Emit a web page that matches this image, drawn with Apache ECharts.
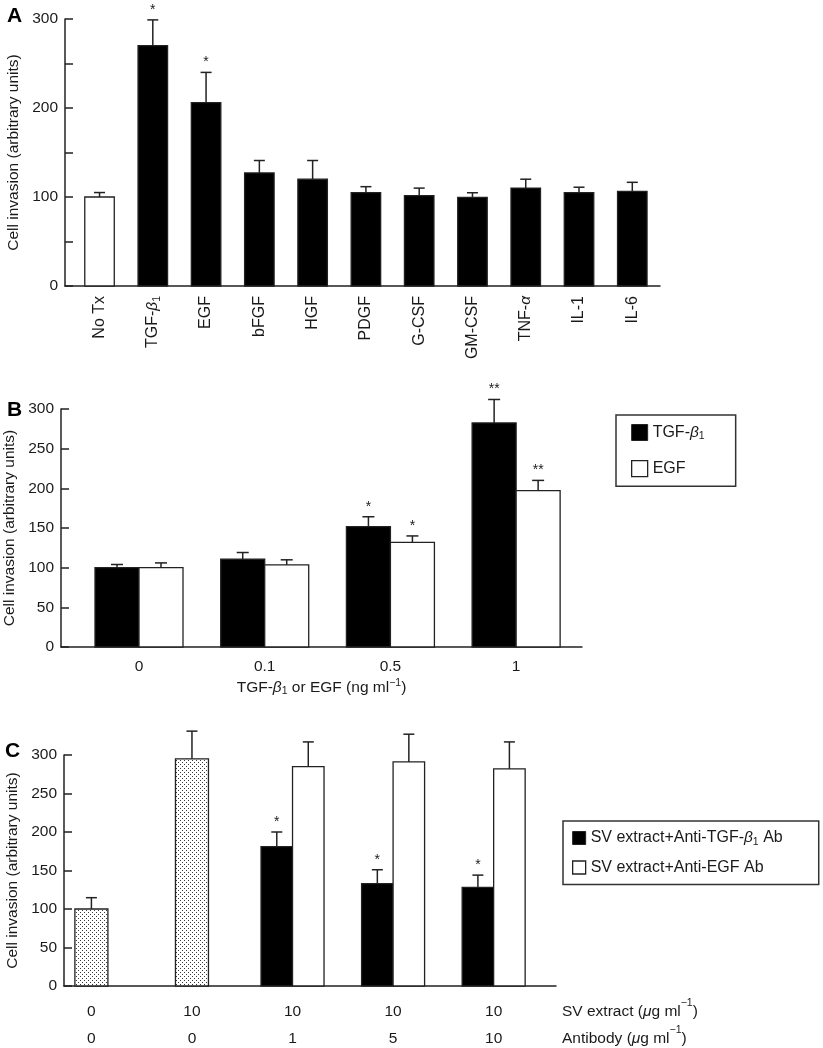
<!DOCTYPE html>
<html><head><meta charset="utf-8">
<script src="https://cdn.jsdelivr.net/npm/echarts@6/dist/echarts.min.js"></script>
<style>html,body{margin:0;padding:0;background:#fff}#c{width:823px;height:1048px}</style>
</head><body><div id="c"></div>
<script>
// ---------- Panel A ----------
const catsA = ['No Tx','TGF-β1','EGF','bFGF','HGF','PDGF','G-CSF','GM-CSF','TNF-α','IL-1','IL-6'];
const valsA = [100, 270, 206, 127, 120, 105, 101.5, 99.6, 110, 105, 106.4];
const errA  = [5, 29, 34, 14, 21, 6.6, 8.5, 5.2, 10, 6, 10.1];
const starsA = ['', '*', '*', '', '', '', '', '', '', '', ''];
// ---------- Panel B ----------
const catsB = ['0', '0.1', '0.5', '1'];
const tgfB = [100, 110.6, 151.7, 282.5];
const tgfErrB = [4, 8.5, 12.5, 29.5];
const tgfStarB = ['', '', '*', '**'];
const egfB = [100, 103.4, 132, 197];
const egfErrB = [6, 6.5, 8, 13];
const egfStarB = ['', '', '*', '**'];
// ---------- Panel C ----------
const svC = ['0', '10', '10', '10', '10'];
const abC = ['0', '0', '1', '5', '10'];
const ctrlIdxC = [0, 1];
const ctrlC = [100, 295];
const ctrlErrC = [14.7, 36];
const pairIdxC = [2, 3, 4];
const antiTgfC = [181, 133, 128];
const antiTgfErrC = [19, 18, 16];
const antiTgfStarC = ['*', '*', '*'];
const antiEgfC = [285, 291, 282];
const antiEgfErrC = [32, 36, 35];

const FONT = '"Liberation Sans", Arial, Helvetica, sans-serif';
const INK = '#1a1a1a';
const RICH = {
  i: {fontStyle: 'italic', fontSize: 15.5, fontFamily: FONT, color: INK},
  s: {fontSize: 10.5, fontFamily: FONT, color: INK, verticalAlign: 'bottom', padding: [8, 0, 0, 0]},
  sup: {fontSize: 10.5, fontFamily: FONT, color: INK, verticalAlign: 'top', padding: [0, 0, 8, 0]}
};
function richify(s) {
  return s.replace('β1', '{i|β}{s|1}').replace('α', '{i|α}');
}
function dotPattern() {
  const c = document.createElement('canvas');
  c.width = 4; c.height = 4;
  const g = c.getContext('2d');
  g.fillStyle = '#ffffff'; g.fillRect(0, 0, 4, 4);
  g.fillStyle = '#3a3a3a';
  g.fillRect(0, 0, 1, 1); g.fillRect(2, 2, 1, 1);
  return c;
}
const DOTS = {image: dotPattern(), repeat: 'repeat'};

function barItem(o) {
  return function (params, api) {
    const x = api.value(0), v = api.value(1), e = api.value(2);
    const base = api.coord([x, 0]), top = api.coord([x, v]), et = api.coord([x, v + e]);
    const cx = base[0] + o.off;
    const fill = typeof o.fill === 'function' ? o.fill(params.dataIndex) : o.fill;
    const star = o.stars ? o.stars[params.dataIndex] : '';
    const ch = [
      {type: 'rect', shape: {x: cx - o.w / 2, y: top[1], width: o.w, height: base[1] - top[1]},
       style: {fill: fill, stroke: '#222', lineWidth: 1.3}},
      {type: 'line', shape: {x1: cx, y1: top[1], x2: cx, y2: et[1]}, style: {stroke: '#222', lineWidth: 1.5}},
      {type: 'line', shape: {x1: cx - o.cap / 2, y1: et[1], x2: cx + o.cap / 2, y2: et[1]}, style: {stroke: '#222', lineWidth: 1.5}}
    ];
    if (star) {
      ch.push({type: 'text', x: cx, y: et[1] - 3,
        style: {text: star, align: 'center', verticalAlign: 'bottom', textAlign: 'center', textVerticalAlign: 'bottom',
                fontSize: 14, fontFamily: FONT, fill: INK}});
    }
    return {type: 'group', children: ch};
  };
}
function rows(idx, vals, errs) { return idx.map((x, i) => [x, vals[i], errs[i]]); }

function yAxisCfg(grid, gap, labelFn) {
  return {
    type: 'value', gridIndex: grid, min: 0, max: 300, interval: 50,
    axisLine: {show: true, onZero: false, lineStyle: {color: '#222', width: 1.5}},
    axisTick: {show: true, inside: true, length: 8, lineStyle: {color: '#222', width: 1.5}},
    splitLine: {show: false},
    axisLabel: {margin: 7, fontSize: 15.5, fontFamily: FONT, color: INK, formatter: labelFn},
    name: 'Cell invasion (arbitrary units)', nameLocation: 'middle', nameGap: gap,
    nameTextStyle: {fontSize: 15.5, fontFamily: FONT, color: INK}
  };
}
const axLine = {show: true, onZero: false, lineStyle: {color: '#222', width: 1.5}};

const option = {
  animation: false,
  backgroundColor: '#fff',
  textStyle: {fontFamily: FONT, color: INK},
  title: [
    {text: 'A', left: 7, top: 6, padding: 0, textStyle: {fontSize: 21, fontWeight: 'bold', color: '#000', fontFamily: FONT}},
    {text: 'B', left: 7, top: 400, padding: 0, textStyle: {fontSize: 21, fontWeight: 'bold', color: '#000', fontFamily: FONT}},
    {text: 'C', left: 5, top: 741, padding: 0, textStyle: {fontSize: 21, fontWeight: 'bold', color: '#000', fontFamily: FONT}}
  ],
  grid: [
    {left: 65, top: 19, width: 595, height: 267, outerBoundsMode: 'none', containLabel: false},
    {left: 61, top: 409, width: 521, height: 238, outerBoundsMode: 'none', containLabel: false},
    {left: 64, top: 755, width: 492, height: 231, outerBoundsMode: 'none', containLabel: false}
  ],
  xAxis: [
    {type: 'value', gridIndex: 0, min: -0.648, max: 10.52, axisLine: axLine, axisTick: {show: false}, splitLine: {show: false},
     axisLabel: {customValues: catsA.map((c, i) => i), formatter: v => richify(catsA[Math.round(v)]),
                 rotate: 90, margin: 10, fontSize: 16, fontFamily: FONT, color: INK, rich: RICH}},
    {type: 'value', gridIndex: 1, min: -0.6205, max: 3.524, axisLine: axLine, axisTick: {show: false}, splitLine: {show: false},
     axisLabel: {customValues: catsB.map((c, i) => i), formatter: v => catsB[Math.round(v)],
                 margin: 12, fontSize: 15.5, fontFamily: FONT, color: INK},
     name: 'TGF-{i|β}{s|1} or EGF (ng ml{sup|−1})', nameLocation: 'middle', nameGap: 31,
     nameTextStyle: {fontSize: 15.5, fontFamily: FONT, color: INK, rich: RICH}},
    {type: 'value', gridIndex: 2, min: -0.2725, max: 4.62, axisLine: axLine, axisTick: {show: false}, splitLine: {show: false},
     axisLabel: {customValues: svC.map((c, i) => i), formatter: v => svC[Math.round(v)] + '\n' + abC[Math.round(v)],
                 margin: 12, lineHeight: 27, fontSize: 15.5, fontFamily: FONT, color: INK},
     name: 'SV extract ({i|μ}g ml{sup|−1})\nAntibody ({i|μ}g ml{sup|−1})', nameLocation: 'end', nameGap: 6,
     nameTextStyle: {align: 'left', verticalAlign: 'top', lineHeight: 27, padding: [12, 0, 0, 0],
                     fontSize: 15.5, fontFamily: FONT, color: INK, rich: RICH}}
  ],
  yAxis: [
    yAxisCfg(0, 42, v => (v % 100 === 0 ? String(v) : '')),
    yAxisCfg(1, 40, v => String(v)),
    yAxisCfg(2, 43, v => String(v))
  ],
  legend: [
    {left: 616, top: 415, orient: 'vertical', selectedMode: false, icon: 'rect',
     itemWidth: 16, itemHeight: 16, itemGap: 18, padding: [9, 31, 9, 15],
     borderColor: '#333', borderWidth: 1.5,
     textStyle: {fontSize: 16, fontFamily: FONT, color: INK, rich: RICH},
     formatter: n => richify(n),
     data: [{name: 'TGF-β1', itemStyle: {color: '#000', borderColor: '#222', borderWidth: 1}},
            {name: 'EGF', itemStyle: {color: '#fff', borderColor: '#222', borderWidth: 1.3}}]},
    {left: 563, top: 821, orient: 'vertical', selectedMode: false, icon: 'rect',
     itemWidth: 13, itemHeight: 13, itemGap: 12, padding: [9, 36, 9, 9],
     borderColor: '#333', borderWidth: 1.5,
     textStyle: {fontSize: 16, fontFamily: FONT, color: INK, rich: RICH},
     formatter: n => richify(n),
     data: [{name: 'SV extract+Anti-TGF-β1 Ab', itemStyle: {color: '#000', borderColor: '#222', borderWidth: 1}},
            {name: 'SV extract+Anti-EGF Ab', itemStyle: {color: '#fff', borderColor: '#222', borderWidth: 1.3}}]}
  ],
  series: [
    {type: 'custom', name: 'Panel A', xAxisIndex: 0, yAxisIndex: 0, encode: {x: 0, y: 1},
     data: catsA.map((c, i) => [i, valsA[i], errA[i]]),
     renderItem: barItem({off: 0, w: 29.5, cap: 11, fill: i => (i === 0 ? '#fff' : '#000'), stars: starsA})},
    {type: 'custom', name: 'TGF-β1', xAxisIndex: 1, yAxisIndex: 1, encode: {x: 0, y: 1},
     itemStyle: {color: '#000'},
     data: rows(catsB.map((c, i) => i), tgfB, tgfErrB),
     renderItem: barItem({off: -22, w: 44, cap: 12, fill: '#000', stars: tgfStarB})},
    {type: 'custom', name: 'EGF', xAxisIndex: 1, yAxisIndex: 1, encode: {x: 0, y: 1},
     itemStyle: {color: '#fff', borderColor: '#222', borderWidth: 1.3},
     data: rows(catsB.map((c, i) => i), egfB, egfErrB),
     renderItem: barItem({off: 22, w: 44, cap: 12, fill: '#fff', stars: egfStarB})},
    {type: 'custom', name: 'SV extract', xAxisIndex: 2, yAxisIndex: 2, encode: {x: 0, y: 1},
     data: rows(ctrlIdxC, ctrlC, ctrlErrC),
     renderItem: barItem({off: 0, w: 33, cap: 11, fill: DOTS, stars: null})},
    {type: 'custom', name: 'SV extract+Anti-TGF-β1 Ab', xAxisIndex: 2, yAxisIndex: 2, encode: {x: 0, y: 1},
     itemStyle: {color: '#000'},
     data: rows(pairIdxC, antiTgfC, antiTgfErrC),
     renderItem: barItem({off: -15.75, w: 31.5, cap: 11, fill: '#000', stars: antiTgfStarC})},
    {type: 'custom', name: 'SV extract+Anti-EGF Ab', xAxisIndex: 2, yAxisIndex: 2, encode: {x: 0, y: 1},
     itemStyle: {color: '#fff', borderColor: '#222', borderWidth: 1.3},
     data: rows(pairIdxC, antiEgfC, antiEgfErrC),
     renderItem: barItem({off: 15.75, w: 31.5, cap: 11, fill: '#fff', stars: null})}
  ]
};
const chart = echarts.init(document.getElementById('c'), null, {renderer: 'canvas'});
chart.setOption(option);
</script>
</body></html>
